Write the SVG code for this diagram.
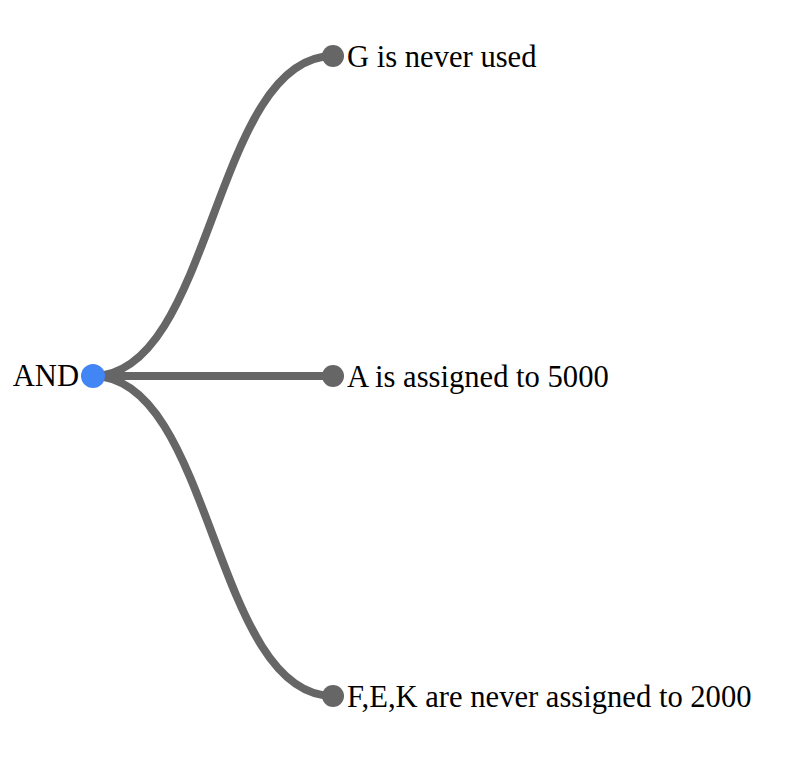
<svg xmlns="http://www.w3.org/2000/svg" width="792" height="776" viewBox="0 0 792 776">
<style>
.link{fill:none;stroke:#666;stroke-width:8}
.leaf{fill:#666}
.root{fill:#4285f4}
.lbl{font-family:"Liberation Serif","Times New Roman",Times,serif;font-size:30.6px;fill:#000}
</style>
<rect width="792" height="776" fill="#fff"/>
<g id="links">
<path class="link" d="M93,376C213,376 213,56 333,56"/>
<path class="link" d="M93,376L333,376"/>
<path class="link" d="M93,376C213,376 213,696 333,696"/>
</g>
<g id="node-and"><circle class="root" cx="93" cy="376" r="12"/><text class="lbl" font-family="Liberation Serif, serif" x="79" y="386" text-anchor="end">AND</text></g>
<g id="node-g"><circle class="leaf" cx="333" cy="56" r="11"/><text class="lbl" font-family="Liberation Serif, serif" x="347" y="67">G is never used</text></g>
<g id="node-a"><circle class="leaf" cx="333" cy="376" r="11"/><text class="lbl" font-family="Liberation Serif, serif" x="347" y="387">A is assigned to 5000</text></g>
<g id="node-fek"><circle class="leaf" cx="333" cy="696" r="11"/><text class="lbl" font-family="Liberation Serif, serif" x="347" y="707">F,E,K are never assigned to 2000</text></g>
</svg>
